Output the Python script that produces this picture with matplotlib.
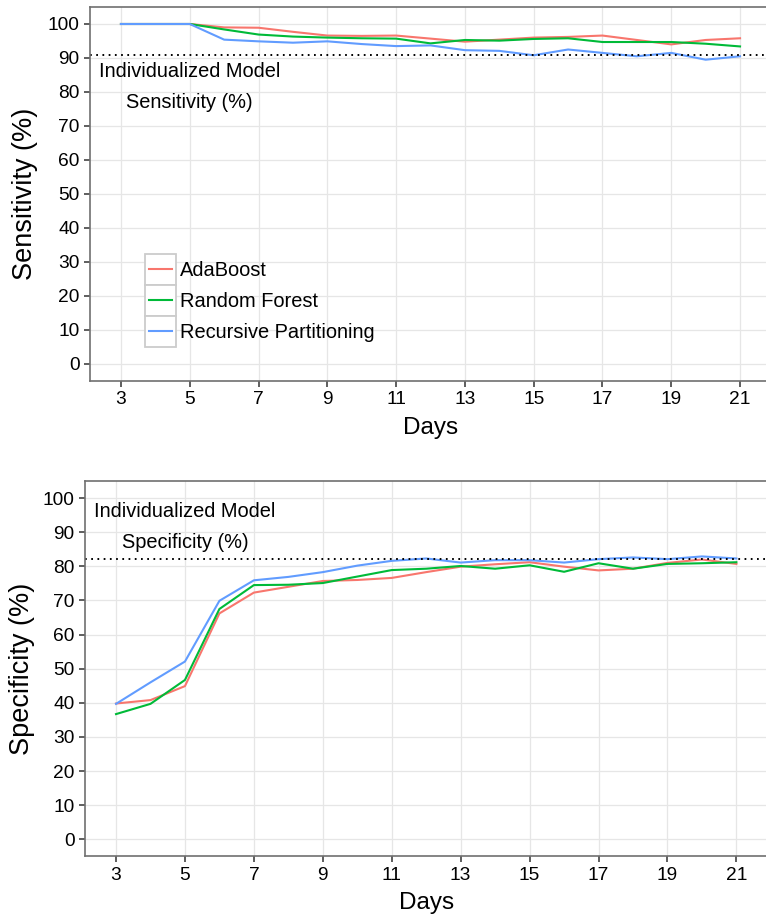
import matplotlib
matplotlib.use("Agg")
import matplotlib.pyplot as plt
from matplotlib.legend_handler import HandlerLine2D
from matplotlib.patches import Rectangle
from matplotlib.lines import Line2D

plt.rcParams["font.family"] = ["Liberation Sans", "DejaVu Sans"]

# ---- data -------------------------------------------------------------
days = list(range(3, 22))
x_ticks = list(range(3, 22, 2))
y_ticks = list(range(0, 101, 10))

model_names = ["AdaBoost", "Random Forest", "Recursive Partitioning"]

sens_adaboost = [100, 100, 100, 99.0, 98.9, 97.7, 96.6, 96.5, 96.6, 95.7,
                 94.8, 95.4, 96.0, 96.2, 96.6, 95.3, 94.0, 95.3, 95.8]
sens_rf = [100, 100, 100, 98.4, 96.9, 96.3, 96.0, 95.8, 95.7, 94.3,
           95.3, 95.1, 95.6, 95.8, 94.7, 94.7, 94.7, 94.2, 93.4]
sens_rp = [100, 100, 100, 95.4, 94.9, 94.5, 94.9, 94.1, 93.5, 93.7,
           92.3, 92.1, 90.8, 92.5, 91.5, 90.5, 91.5, 89.5, 90.5]

spec_adaboost = [39.8, 40.8, 44.9, 66.2, 72.3, 74.0, 75.7, 76.0, 76.6, 78.3,
                 79.9, 80.6, 81.2, 79.9, 78.8, 79.3, 81.0, 82.0, 80.7]
spec_rf = [36.7, 39.7, 46.7, 67.5, 74.5, 74.6, 75.1, 77.0, 78.9, 79.3,
           80.1, 79.3, 80.3, 78.4, 80.9, 79.3, 80.7, 80.9, 81.2]
spec_rp = [39.7, 46.0, 52.1, 69.9, 75.9, 76.9, 78.3, 80.2, 81.6, 82.3,
           81.1, 81.8, 81.8, 81.1, 82.1, 82.6, 82.1, 82.9, 82.3]

individual_sensitivity = 91.0
individual_specificity = 82.0

colors = ["#F8766D", "#00BA38", "#619CFF"]


class BoxedKey(HandlerLine2D):
    """Legend key drawn as a bordered square with a short line inside."""

    def create_artists(self, legend, orig_handle, xdescent, ydescent,
                       width, height, fontsize, trans):
        box = Rectangle((-xdescent, -ydescent), width, height,
                        facecolor="white", edgecolor="#cccccc", lw=1.3,
                        transform=trans)
        inset = 0.13 * width
        yc = -ydescent + height / 2.0
        line = Line2D([-xdescent + inset, -xdescent + width - inset], [yc, yc],
                      color=orig_handle.get_color(),
                      lw=orig_handle.get_linewidth(), transform=trans)
        return [box, line]


def style_axes(ax, ylabel, ylabel_x, xlabel_y):
    ax.set_xlim(2.1, 21.9)
    ax.set_ylim(-5, 105)
    ax.set_xticks(x_ticks)
    ax.set_yticks(y_ticks)
    ax.grid(True, color="#e6e6e6", lw=0.9)
    ax.set_axisbelow(True)
    for sp in ax.spines.values():
        sp.set_color("#707070")
        sp.set_linewidth(1.2)
    ax.tick_params(axis="both", length=4.5, width=1.1, color="#333333",
                   labelsize=13.8, labelcolor="black", pad=3)
    ax.set_xlabel("Days", fontsize=17.5)
    ax.set_ylabel(ylabel, fontsize=19.5)
    ax.xaxis.label.set_va("center")
    ax.yaxis.label.set_va("center")
    ax.xaxis.set_label_coords(0.5, xlabel_y)
    ax.yaxis.set_label_coords(ylabel_x, 0.5)


fig = plt.figure(figsize=(7.66, 9.18), dpi=100)

# ---- sensitivity panel ------------------------------------------------
ax1 = fig.add_axes([0.11749, 0.58497, 0.88903, 0.40741])
handles = []
for vals, c, name in zip([sens_adaboost, sens_rf, sens_rp], colors, model_names):
    h, = ax1.plot(days, vals, color=c, lw=1.5, label=name)
    handles.append(h)
ax1.axhline(individual_sensitivity, color="black", lw=1.4,
            linestyle=(0, (0.9, 2.3)))
ax1.text(5, 86, "Individualized Model", ha="center", va="center", fontsize=14.4)
ax1.text(5, 77, "Sensitivity (%)", ha="center", va="center", fontsize=14.4)
style_axes(ax1, "Sensitivity (%)", -0.095, -0.126)

ax1.legend(handles=handles, loc="upper left", bbox_to_anchor=(0.0808, 0.3396),
           frameon=False, fontsize=14.4, borderpad=0, borderaxespad=0,
           handlelength=1.55, handleheight=2.0, handletextpad=0.2,
           labelspacing=0, handler_map={Line2D: BoxedKey()})

# ---- specificity panel ------------------------------------------------
ax2 = fig.add_axes([0.11097, 0.06710, 0.89086, 0.40893])
for vals, c, name in zip([spec_adaboost, spec_rf, spec_rp], colors, model_names):
    ax2.plot(days, vals, color=c, lw=1.5, label=name)
ax2.axhline(individual_specificity, color="black", lw=1.4,
            linestyle=(0, (0.9, 2.3)))
ax2.text(5, 96, "Individualized Model", ha="center", va="center", fontsize=14.4)
ax2.text(5, 87, "Specificity (%)", ha="center", va="center", fontsize=14.4)
style_axes(ax2, "Specificity (%)", -0.092, -0.124)

fig.savefig("out.png", dpi=100)
